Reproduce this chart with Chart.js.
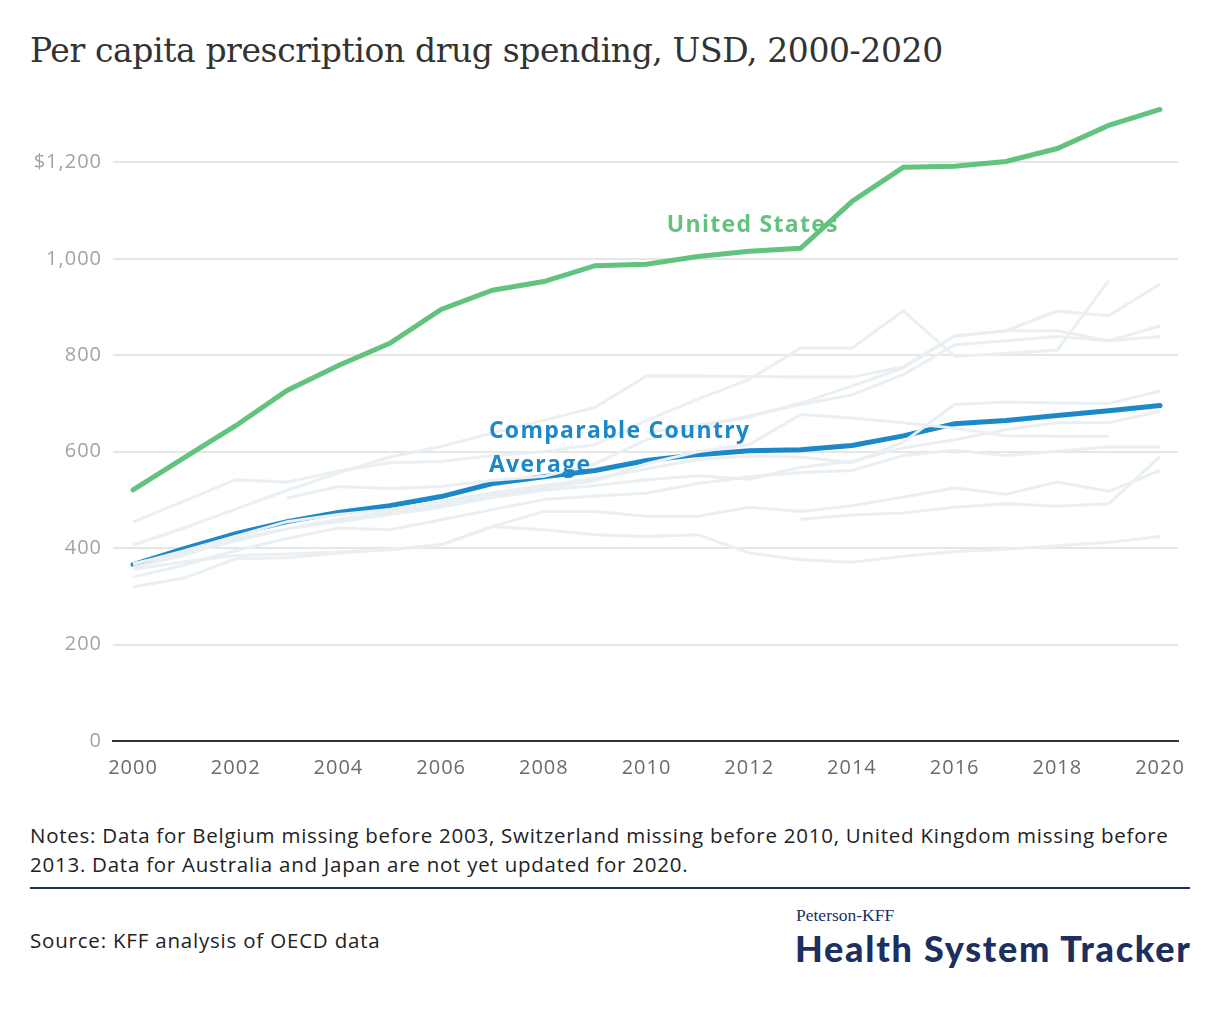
<!DOCTYPE html>
<html>
<head>
<meta charset="utf-8">
<script src="https://cdn.jsdelivr.net/npm/chart.js@4.4.1/dist/chart.umd.min.js"></script>
<style>
  html, body { margin: 0; padding: 0; background: #fff; }
  body { width: 1220px; height: 1020px; position: relative; overflow: hidden; font-family: "Open Sans", Lato, sans-serif; }
  #title { position: absolute; left: 30px; top: 31px; font-family: "DejaVu Serif", serif; font-size: 33px; color: #333; white-space: nowrap; letter-spacing: -0.4px; }
  #wrap { position: absolute; left: 0; top: 0; width: 1220px; height: 800px; }
  #notes { position: absolute; left: 30px; top: 821px; width: 1185px; font-size: 20.5px; line-height: 29px; color: #222; letter-spacing: 0.75px; white-space: nowrap; }
  #rule { position: absolute; left: 30px; top: 887px; width: 1160px; height: 2px; background: #1d2f5f; }
  #source { position: absolute; left: 30px; top: 926px; font-size: 20.5px; color: #222; letter-spacing: 0.8px; }
  #brand1 { position: absolute; left: 796px; top: 905px; font-family: "Liberation Serif", serif; font-size: 17.5px; color: #1d2f5f; }
  #brand2 { position: absolute; left: 795px; top: 926px; font-family: Lato, sans-serif; font-size: 36px; font-weight: 900; color: #1d2f5f; letter-spacing: 1.75px; white-space: nowrap; }
</style>
</head>
<body>
<div id="title">Per capita prescription drug spending, USD, 2000-2020</div>
<div id="wrap"><canvas id="chart-rx"></canvas></div>
<div id="notes">Notes: Data for Belgium missing before 2003, Switzerland missing before 2010, United Kingdom missing before<br>2013. Data for Australia and Japan are not yet updated for 2020.</div>
<div id="rule"></div>
<div id="source">Source: KFF analysis of OECD data</div>
<div id="brand1">Peterson-KFF</div>
<div id="brand2">Health System Tracker</div>

<script>
// data
// -----------------------------------
var years = [2000, 2001, 2002, 2003, 2004, 2005, 2006, 2007, 2008, 2009, 2010,
             2011, 2012, 2013, 2014, 2015, 2016, 2017, 2018, 2019, 2020];
var xTicks = [2000, 2002, 2004, 2006, 2008, 2010, 2012, 2014, 2016, 2018, 2020];
var yTicks = [0, 200, 400, 600, 800, 1000, 1200];

var unitedStates = [521, 588, 654, 727, 779, 825, 895, 935, 953, 986, 989, 1005, 1016, 1022, 1119, 1190, 1192, 1202, 1229, 1277, 1310];
var comparableAvg = [366, 399, 430, 455, 474, 488, 507, 534, 548, 561, 582, 594, 602, 604, 613, 633, 658, 665, 675, 685, 696];

var germany = [406, 442, 481, 520, 556, 589, 611, 639, 665, 692, 757, 757, 756, 755, 755, 776, 840, 851, 892, 882, 948];
var japan = [454, 498, 542, 537, 560, 577, 580, 592, 600, 615, 665, 709, 750, 815, 815, 892, 798, 804, 811, 955, null];
var switzerland = [null, null, null, null, null, null, null, null, null, null, 640, 655, 672, 701, 736, 774, 840, 851, 851, 830, 861];
var belgium = [null, null, null, 504, 528, 524, 528, 541, 549, 575, 625, 650, 674, 698, 718, 760, 822, 830, 839, 830, 839];
var canada = [366, 395, 425, 455, 470, 480, 497, 515, 530, 545, 564, 584, 591, 589, 577, 620, 698, 703, 701, 700, 726];
var france = [360, 385, 420, 440, 455, 470, 485, 505, 520, 530, 542, 550, 543, 568, 580, 608, 625, 646, 660, 660, 684];
var austria = [340, 365, 395, 420, 442, 438, 459, 480, 501, 508, 514, 534, 548, 557, 561, 592, 603, 592, 601, 610, 610];
var sweden = [356, 372, 385, 388, 392, 397, 407, 445, 476, 476, 466, 466, 485, 476, 488, 506, 525, 512, 537, 518, 561];
var netherlands = [320, 338, 378, 380, 390, 397, 407, 445, 438, 428, 424, 428, 390, 376, 371, 383, 393, 398, 405, 412, 424];
var australia = [368, 390, 415, 440, 460, 475, 490, 510, 525, 540, 575, 600, 615, 677, 670, 660, 649, 633, 632, 632, null];
var unitedKingdom = [null, null, null, null, null, null, null, null, null, null, null, null, null, 460, 469, 473, 485, 492, 487, 492, 590];

var greyCountries = [germany, japan, switzerland, belgium, canada, france, austria, sweden, netherlands, australia, unitedKingdom];

var GREEN = '#62c37e';
var BLUE = '#1b88c9';
var GREY = '#e9eff2';

function toPoints(values) {
    return values.map(function(v, i) { return { x: years[i], y: v }; });
}

// line chart
// -----------------------------------
var datasets = greyCountries.map(function(vals) {
    return { data: toPoints(vals), borderColor: GREY, borderWidth: 3, pointRadius: 0, spanGaps: false };
});
datasets.push({ data: toPoints(comparableAvg), borderColor: BLUE, borderWidth: 5, pointRadius: 0, borderCapStyle: 'round' });
datasets.push({ data: toPoints(unitedStates), borderColor: GREEN, borderWidth: 5, pointRadius: 0, borderCapStyle: 'round' });

// wider tick lettering
var tickSpacing = {
    id: 'tickSpacing',
    beforeDraw: function(chart) { chart.ctx.letterSpacing = '1px'; },
    afterDraw: function(chart) { chart.ctx.letterSpacing = '0px'; }
};

// series labels written on the plot
var seriesLabels = {
    id: 'seriesLabels',
    afterDatasetsDraw: function(chart) {
        var ctx = chart.ctx, x = chart.scales.x, y = chart.scales.y;
        ctx.save();
        ctx.font = 'bold 23px "Open Sans"';
        ctx.letterSpacing = '1.3px';
        ctx.textBaseline = 'middle';
        ctx.textAlign = 'center';
        ctx.fillStyle = GREEN;
        ctx.fillText('United States', x.getPixelForValue(2012.07), y.getPixelForValue(1070));
        ctx.textAlign = 'left';
        ctx.fillStyle = BLUE;
        ctx.fillText('Comparable Country', x.getPixelForValue(2006.93), y.getPixelForValue(642));
        ctx.fillText('Average', x.getPixelForValue(2006.93), y.getPixelForValue(571));
        ctx.restore();
    }
};

var ctx = document.getElementById('chart-rx').getContext('2d');
var rxChart = new Chart(ctx, {
    type: 'line',
    data: { datasets: datasets },
    plugins: [tickSpacing, seriesLabels],
    options: {
        responsive: true,
        maintainAspectRatio: false,
        animation: false,
        layout: { padding: { top: 95, right: 42, left: 0, bottom: 0 } },
        plugins: { legend: { display: false }, tooltip: { enabled: false } },
        elements: { line: { tension: 0 } },
        scales: {
            x: {
                type: 'linear',
                min: 1999.61,
                max: 2020.35,
                afterBuildTicks: function(scale) {
                    scale.ticks = xTicks.map(function(v) { return { value: v }; });
                },
                afterFit: function(scale) { scale.height = 59; },
                grid: { display: false, drawTicks: false },
                border: { display: true, color: '#333', width: 2 },
                ticks: {
                    autoSkip: false, maxRotation: 0, padding: 15,
                    color: '#6b6b6b', font: { family: 'Open Sans', size: 20 },
                    callback: function(v) { return String(v); }
                }
            },
            y: {
                min: 0,
                max: 1340,
                afterBuildTicks: function(scale) {
                    scale.ticks = yTicks.map(function(v) { return { value: v }; });
                },
                afterFit: function(scale) { scale.width = 113; },
                grid: { color: '#e6e6e6', lineWidth: 2, drawTicks: false },
                border: { display: false },
                ticks: {
                    padding: 11,
                    color: '#a3a3a3', font: { family: 'Open Sans', size: 20 },
                    callback: function(v) { return v === 1200 ? '$1,200' : v.toLocaleString('en-US'); }
                }
            }
        }
    }
});
</script>
</body>
</html>
